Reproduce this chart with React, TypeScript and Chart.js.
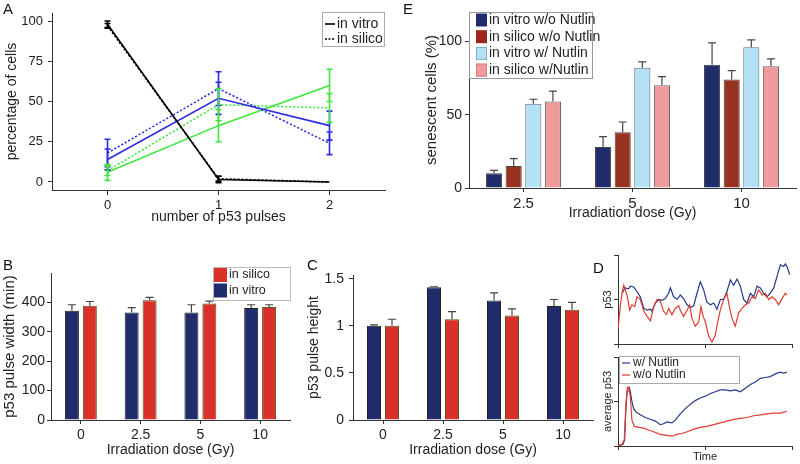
import React, { useEffect, useRef } from 'react';
import { Chart, registerables } from 'chart.js';

Chart.register(...registerables);

const FONT = "'Liberation Sans', Arial, Helvetica, sans-serif";
const TEXT = '#222';
const AXIS = '#333';

// ---------- Panel A ----------
const pulseNumbers = [0, 1, 2];
const ticksA = [0, 25, 50, 75, 100];
const vitroBlack = [98, 1.5, 0];
const vitroBlackErr = [2, 2, 0];
const silicoBlack = [97, 2, 0];
const silicoBlackErr = [1.5, 1.5, 0];
const vitroBlue = [14, 52, 35];
const vitroBlueErr = [6.5, 10, 9];
const silicoBlue = [18, 58, 24];
const silicoBlueErr = [8.5, 10.5, 7];
const vitroGreen = [6, 35, 60];
const vitroGreenErr = [5, 10, 10];
const silicoGreen = [7, 48, 46];
const silicoGreenErr = [3, 10, 9];
const legendA = ['in vitro', 'in silico'];

// ---------- Panel E ----------
const dosesE = ['2.5', '5', '10'];
const ticksE = [0, 50, 100];
const vitroNoNutlin = [10, 28, 84];
const vitroNoNutlinErr = [2, 7, 15];
const silicoNoNutlin = [15, 38, 74];
const silicoNoNutlinErr = [5, 7, 6];
const vitroNutlin = [57.5, 82, 96];
const vitroNutlinErr = [3, 4, 5];
const silicoNutlin = [59, 70, 83];
const silicoNutlinErr = [7, 6, 5];
const legendE = ['in vitro w/o Nutlin', 'in silico w/o Nutlin', 'in vitro w/ Nutlin', 'in silico w/Nutlin'];

// ---------- Panels B, C ----------
const dosesBC = ['0', '2.5', '5', '10'];
const ticksB = [0, 100, 200, 300, 400];
const widthVitro = [372, 366, 366, 381];
const widthVitroErr = [20, 16, 26, 11];
const widthSilico = [389, 407, 396, 384];
const widthSilicoErr = [14, 10, 8, 8];
const legendB = ['in silico', 'in vitro'];
const ticksC = [0, 0.5, 1, 1.5];
const heightVitro = [1.0, 1.41, 1.27, 1.21];
const heightVitroErr = [0.01, 0.005, 0.08, 0.07];
const heightSilico = [1.0, 1.07, 1.11, 1.17];
const heightSilicoErr = [0.07, 0.08, 0.07, 0.08];

// ---------- Panel D ----------
const ticksD = [0, 50, 100];
const dTopBlueT = [2.3, 4.2, 6.1, 7.1, 9.0, 10.9, 12.8, 14.8, 16.7, 18.6, 19.5, 21.5, 23.4, 25.3, 27.2, 29.1, 30.1, 32.0, 33.9, 35.8, 37.7, 39.7, 41.6, 43.5, 45.4, 47.3, 49.2, 51.1, 53.1, 55.0, 56.9, 58.8, 60.7, 62.6, 64.6, 66.5, 68.4, 70.3, 72.2, 74.1, 76.1, 78.0, 79.9, 81.8, 83.7, 85.6, 87.5, 89.5, 91.4, 93.3, 95.2, 96.2, 97.1, 98.7];
const dTopBlueV = [57, 63, 62, 65, 64, 59, 53, 40, 38, 39, 37, 46, 50, 49, 51, 57, 63, 53, 50, 55, 51, 44, 41, 43, 57, 70, 61, 47, 44, 46, 39, 50, 50, 59, 72, 66, 73, 65, 50, 46, 57, 53, 65, 63, 57, 53, 57, 63, 76, 89, 87, 90, 87, 78];
const dTopRedT = [0, 1.3, 2.3, 3.3, 5.2, 6.7, 8.0, 9.6, 10.9, 12.8, 14.8, 16.7, 18.6, 20.5, 22.4, 24.3, 26.2, 27.8, 29.1, 31.0, 32.9, 34.9, 35.8, 37.7, 39.7, 41.2, 42.5, 44.4, 46.4, 47.7, 48.9, 50.2, 52.1, 54.0, 55.9, 57.3, 58.8, 60.7, 62.6, 64.2, 65.5, 67.4, 69.3, 71.3, 73.2, 75.1, 77.0, 78.9, 80.8, 82.8, 84.7, 86.6, 88.5, 90.4, 92.3, 94.3, 96.2, 97.1];
const dTopRedV = [16, 42, 57, 66, 55, 38, 44, 42, 53, 50, 37, 31, 26, 42, 50, 48, 37, 33, 40, 33, 40, 43, 38, 31, 38, 44, 29, 20, 25, 42, 31, 25, 9, 2, 10, 25, 38, 50, 57, 40, 29, 20, 35, 40, 44, 46, 53, 51, 61, 55, 57, 50, 53, 50, 44, 51, 57, 55];
const dAvgBlueT = [0, 1.3, 2.9, 3.8, 4.6, 5.2, 5.7, 6.5, 7.1, 8.0, 9.0, 10.5, 12.8, 15.7, 18.6, 21.5, 24.3, 26.2, 28.2, 31.0, 32.9, 35.8, 38.7, 41.6, 44.4, 47.3, 50.2, 53.1, 55.9, 58.8, 61.7, 64.6, 67.4, 70.3, 73.2, 76.1, 78.9, 81.8, 84.7, 87.5, 90.4, 93.3, 95.2, 97.1];
const dAvgBlueV = [0, 1, 2, 7, 44, 61, 66, 66, 61, 50, 42, 38, 35, 32, 30, 28, 24, 25, 27, 26, 29, 36, 42, 47, 51, 54, 56, 59, 61, 63, 63, 62, 63, 61, 65, 69, 72, 76, 77, 78, 81, 83, 82, 83];
const dAvgRedT = [0, 2.3, 3.6, 4.6, 5.4, 6.3, 7.1, 8.0, 9.4, 11.9, 14.8, 17.6, 20.5, 24.3, 28.2, 31.0, 33.9, 36.8, 39.7, 43.5, 47.3, 51.1, 55.0, 58.8, 62.6, 66.5, 70.3, 74.1, 78.0, 81.8, 85.6, 89.5, 93.3, 97.1];
const dAvgRedV = [0, 1.5, 7, 48, 65, 66, 55, 29, 22, 21, 20, 18, 16, 13, 12, 11, 13, 14, 16, 19, 21, 22, 24, 26, 28, 30, 31, 32, 34, 35, 36, 37, 37, 39];
const legendD = ['w/ Nutlin', 'w/o Nutlin'];

// ---------- colours ----------
const NAVY = '#202c6c';
const RED = '#d9302a';
const BROWN = '#9a3220';
const LIGHTBLUE = '#b3e1f5';
const PINK = '#f19c9c';
const BLUE_A = '#2b2be0';
const GREEN_A = '#3ee63e';
const D_BLUE = '#263a8a';
const D_RED = '#e23b30';

const errorBarPlugin = {
  id: 'errbars',
  afterDatasetsDraw(chart: any) {
    const ctx = chart.ctx;
    chart.data.datasets.forEach((ds: any, di: number) => {
      const errs = ds.errs;
      if (!errs) return;
      const meta = chart.getDatasetMeta(di);
      const ys = chart.scales[meta.yAxisID];
      ctx.save();
      ctx.strokeStyle = ds.errColor || ds.borderColor;
      ctx.lineWidth = ds.errWidth || 1;
      ctx.setLineDash([]);
      const cap = ds.capWidth || 8;
      meta.data.forEach((el: any, i: number) => {
        const e = errs[i];
        if (!e) return;
        const raw = ds.data[i];
        const v = typeof raw === 'number' ? raw : raw.y;
        const x = el.x;
        const yTop = ys.getPixelForValue(v + e);
        const yBot = ds.errBoth ? ys.getPixelForValue(v - e) : el.y;
        ctx.beginPath();
        ctx.moveTo(x, yTop);
        ctx.lineTo(x, yBot);
        ctx.moveTo(x - cap / 2, yTop);
        ctx.lineTo(x + cap / 2, yTop);
        if (ds.errBoth) {
          ctx.moveTo(x - cap / 2, yBot);
          ctx.lineTo(x + cap / 2, yBot);
        }
        ctx.stroke();
      });
      ctx.restore();
    });
  },
};

const boxLegendPlugin = {
  id: 'boxLegend',
  afterDraw(chart: any, _args: any, o: any) {
    if (!o || !o.items) return;
    const ctx = chart.ctx;
    ctx.save();
    ctx.fillStyle = '#fff';
    ctx.fillRect(o.x, o.y, o.w, o.h);
    ctx.strokeStyle = o.border;
    ctx.lineWidth = 1;
    ctx.strokeRect(o.x + 0.5, o.y + 0.5, o.w, o.h);
    ctx.font = `${o.size}px ${FONT}`;
    ctx.textBaseline = 'middle';
    ctx.textAlign = 'left';
    o.items.forEach((it: any, i: number) => {
      const cy = o.y + o.rowTop + i * o.rowH;
      if (it.kind === 'box') {
        ctx.fillStyle = it.color;
        ctx.fillRect(o.x + o.symX, cy - o.symH / 2, o.symW, o.symH);
        if (it.stroke) {
          ctx.strokeStyle = it.stroke;
          ctx.lineWidth = 1;
          ctx.strokeRect(o.x + o.symX + 0.5, cy - o.symH / 2 + 0.5, o.symW - 1, o.symH - 1);
        }
      } else {
        ctx.strokeStyle = it.color;
        ctx.lineWidth = it.width;
        ctx.setLineDash(it.dash ? [...it.dash] : []);
        ctx.beginPath();
        ctx.moveTo(o.x + o.symX, cy);
        ctx.lineTo(o.x + o.symX + o.symW, cy);
        ctx.stroke();
        ctx.setLineDash([]);
      }
      ctx.fillStyle = TEXT;
      ctx.fillText(it.label, o.x + o.textX, cy);
    });
    ctx.restore();
  },
};

function titleCfg(text: string | null, size: number, pad: any) {
  if (!text) return { display: false };
  return { display: true, text, color: TEXT, font: { family: FONT, size }, padding: pad };
}

function linY(p: any) {
  return {
    type: 'linear',
    position: 'left',
    min: p.min,
    max: p.max,
    afterBuildTicks: (s: any) => {
      s.ticks = p.ticks.map((v: number) => ({ value: v }));
    },
    afterFit: (s: any) => {
      s.width = p.width;
    },
    border: { display: true, color: AXIS, width: 1 },
    grid: { display: true, drawOnChartArea: false, drawTicks: true, tickLength: p.tickLen ?? 4, color: AXIS, lineWidth: 1 },
    ticks: {
      display: p.showLabels !== false,
      padding: p.tickPad ?? 3,
      color: TEXT,
      font: { family: FONT, size: p.size || 13 },
      callback: (v: any) => String(v),
    },
    title: titleCfg(p.title, p.titleSize || 14, { top: p.titlePad ?? 4, bottom: 0 }),
  };
}

function linX(p: any) {
  return {
    type: 'linear',
    position: 'bottom',
    min: p.min,
    max: p.max,
    afterBuildTicks: (s: any) => {
      s.ticks = p.ticks.map((v: number) => ({ value: v }));
    },
    afterFit: (s: any) => {
      s.height = p.height;
    },
    border: { display: true, color: AXIS, width: 1 },
    grid: { display: true, drawOnChartArea: false, drawTicks: true, tickLength: p.tickLen ?? 4, color: AXIS, lineWidth: 1 },
    ticks: {
      display: p.showLabels !== false,
      padding: p.tickPad ?? 3,
      color: TEXT,
      maxRotation: 0,
      font: { family: FONT, size: p.size || 13 },
      callback: (v: any) => String(v),
    },
    title: titleCfg(p.title, p.titleSize || 14, { top: 0, bottom: p.titlePad ?? 4 }),
  };
}

function catX(p: any) {
  return {
    type: 'category',
    position: 'bottom',
    offset: true,
    afterFit: (s: any) => {
      s.height = p.height;
    },
    border: { display: true, color: AXIS, width: 1 },
    grid: { display: true, offset: false, drawOnChartArea: false, drawTicks: true, tickLength: p.tickLen ?? 4, color: AXIS, lineWidth: 1 },
    ticks: { padding: p.tickPad ?? 3, color: TEXT, maxRotation: 0, autoSkip: false, font: { family: FONT, size: p.size || 14 } },
    title: titleCfg(p.title, p.titleSize || 14, { top: 0, bottom: p.titlePad ?? 4 }),
  };
}

function baseOptions(padding: any, scales: any, legend: any) {
  return {
    responsive: false,
    maintainAspectRatio: false,
    animation: false,
    devicePixelRatio: 1,
    layout: { padding },
    plugins: {
      legend: { display: false },
      tooltip: { enabled: false },
      boxLegend: legend || {},
    },
    scales,
  };
}

function pts(xs: number[], ys: number[]) {
  return xs.map((x, i) => ({ x, y: ys[i] }));
}

function lineA(data: number[], errs: number[], color: string, dashed: boolean) {
  return {
    data: pts(pulseNumbers, data),
    borderColor: color,
    backgroundColor: color,
    borderWidth: 1.6,
    borderDash: dashed ? [2, 2] : [],
    pointRadius: 0,
    tension: 0,
    errs,
    errBoth: true,
    errWidth: 1.6,
    capWidth: 6,
  };
}

function configA() {
  return {
    type: 'line',
    data: {
      datasets: [
        lineA(vitroBlack, vitroBlackErr, '#000', false),
        lineA(silicoBlack, silicoBlackErr, '#000', true),
        lineA(vitroBlue, vitroBlueErr, BLUE_A, false),
        lineA(silicoBlue, silicoBlueErr, BLUE_A, true),
        lineA(vitroGreen, vitroGreenErr, GREEN_A, false),
        lineA(silicoGreen, silicoGreenErr, GREEN_A, true),
      ],
    },
    options: baseOptions(
      { top: 13, right: 15, left: 0, bottom: 0 },
      {
        x: linX({ min: -0.5, max: 2.5, ticks: pulseNumbers, height: 42, size: 13, title: 'number of p53 pulses', titleSize: 14, titlePad: 6, tickLen: 5 }),
        y: linY({ min: -5, max: 105, ticks: ticksA, width: 52, size: 13, title: 'percentage of cells', titleSize: 14, titlePad: 4, tickLen: 4, tickPad: 5 }),
      },
      {
        x: 322, y: 12, w: 62, h: 34, size: 14, rowTop: 12, rowH: 15, symX: 3, symW: 10, symH: 0, textX: 15, border: '#aaa',
        items: [
          { kind: 'line', color: '#000', width: 1.6, label: legendA[0] },
          { kind: 'line', color: '#000', width: 1.6, dash: [2, 1.5], label: legendA[1] },
        ],
      }
    ),
    plugins: [errorBarPlugin, boxLegendPlugin],
  };
}

function barDs(data: number[], errs: number[], color: string, border: string, catPct: number, barPct: number) {
  return {
    data,
    backgroundColor: color,
    borderColor: border,
    borderWidth: 1,
    categoryPercentage: catPct,
    barPercentage: barPct,
    errs,
    errColor: '#444',
    errWidth: 1.2,
    capWidth: 8,
  };
}

function configE() {
  const c = 0.72;
  const b = 0.82;
  return {
    type: 'bar',
    data: {
      labels: dosesE,
      datasets: [
        barDs(vitroNoNutlin, vitroNoNutlinErr, NAVY, '#444', c, b),
        barDs(silicoNoNutlin, silicoNoNutlinErr, BROWN, '#444', c, b),
        barDs(vitroNutlin, vitroNutlinErr, LIGHTBLUE, '#667', c, b),
        barDs(silicoNutlin, silicoNutlinErr, PINK, '#666', c, b),
      ],
    },
    options: baseOptions(
      { top: 12, right: 4, left: 0, bottom: 0 },
      {
        x: catX({ height: 44, size: 15, title: 'Irradiation dose (Gy)', titleSize: 14, titlePad: 10, tickLen: 4 }),
        y: linY({ min: 0, max: 120, ticks: ticksE, width: 69, size: 14, title: 'senescent cells (%)', titleSize: 15, titlePad: 23, tickLen: 4, tickPad: 3 }),
      },
      {
        x: 69, y: 12, w: 123, h: 66, size: 14, rowTop: 8, rowH: 16.7, symX: 7, symW: 11, symH: 13, textX: 20, border: '#999',
        items: [
          { kind: 'box', color: NAVY, label: legendE[0] },
          { kind: 'box', color: '#a0261c', label: legendE[1] },
          { kind: 'box', color: LIGHTBLUE, stroke: '#7fb0cc', label: legendE[2] },
          { kind: 'box', color: PINK, stroke: '#d08080', label: legendE[3] },
        ],
      }
    ),
    plugins: [errorBarPlugin, boxLegendPlugin],
  };
}

function configB() {
  const c = 0.6;
  const b = 0.78;
  return {
    type: 'bar',
    data: {
      labels: dosesBC,
      datasets: [
        barDs(widthVitro, widthVitroErr, NAVY, '#222', c, b),
        barDs(widthSilico, widthSilicoErr, RED, '#552', c, b),
      ],
    },
    options: baseOptions(
      { top: 33, right: 10, left: 0, bottom: 0 },
      {
        x: catX({ height: 44, size: 14, title: 'Irradiation dose (Gy)', titleSize: 14, titlePad: 5, tickLen: 4 }),
        y: linY({ min: 0, max: 500, ticks: ticksB, width: 51, size: 14, title: 'p53 pulse width (min)', titleSize: 15, titlePad: 1, tickLen: 4, tickPad: 2 }),
      },
      {
        x: 213, y: 27, w: 77, h: 33, size: 12.5, rowTop: 8, rowH: 15.5, symX: 1, symW: 13, symH: 14, textX: 16, border: '#bbb',
        items: [
          { kind: 'box', color: RED, label: legendB[0] },
          { kind: 'box', color: NAVY, label: legendB[1] },
        ],
      }
    ),
    plugins: [errorBarPlugin, boxLegendPlugin],
  };
}

function configC() {
  const c = 0.6;
  const b = 0.78;
  return {
    type: 'bar',
    data: {
      labels: dosesBC,
      datasets: [
        barDs(heightVitro, heightVitroErr, NAVY, '#222', c, b),
        barDs(heightSilico, heightSilicoErr, RED, '#552', c, b),
      ],
    },
    options: baseOptions(
      { top: 35, right: 7, left: 0, bottom: 0 },
      {
        x: catX({ height: 44, size: 14, title: 'Irradiation dose (Gy)', titleSize: 14, titlePad: 5, tickLen: 4 }),
        y: linY({ min: 0, max: 1.54, ticks: ticksC, width: 73, size: 14, title: 'p53 pulse height', titleSize: 14, titlePad: 26, tickLen: 4, tickPad: 5 }),
      },
      null
    ),
    plugins: [errorBarPlugin],
  };
}

function lineD(xs: number[], ys: number[], color: string) {
  return {
    data: pts(xs, ys),
    borderColor: color,
    backgroundColor: color,
    borderWidth: 1.2,
    pointRadius: 0,
    tension: 0,
  };
}

function configDTop() {
  return {
    type: 'line',
    data: {
      datasets: [lineD(dTopRedT, dTopRedV, D_RED), lineD(dTopBlueT, dTopBlueV, D_BLUE)],
    },
    options: baseOptions(
      { top: 10, right: 8, left: 0, bottom: 0 },
      {
        x: linX({ min: 0, max: 100, ticks: ticksD, height: 6, showLabels: false, title: null, tickLen: 4 }),
        y: linY({ min: 0, max: 100, ticks: ticksD, width: 38, showLabels: false, title: 'p53', titleSize: 11, titlePad: 21, tickLen: 4 }),
      },
      null
    ),
    plugins: [],
  };
}

function configDBottom() {
  return {
    type: 'line',
    data: {
      datasets: [lineD(dAvgRedT, dAvgRedV, D_RED), lineD(dAvgBlueT, dAvgBlueV, D_BLUE)],
    },
    options: baseOptions(
      { top: 7, right: 8, left: 0, bottom: 0 },
      {
        x: linX({ min: 0, max: 100, ticks: ticksD, height: 18, showLabels: false, title: 'Time', titleSize: 11, titlePad: 0, tickLen: 4 }),
        y: linY({ min: 0, max: 100, ticks: ticksD, width: 38, showLabels: false, title: 'average p53', titleSize: 11, titlePad: 21, tickLen: 4 }),
      },
      {
        x: 39, y: 6, w: 120, h: 27, size: 12, rowTop: 7, rowH: 12, symX: 3, symW: 8, symH: 0, textX: 14, border: '#aaa',
        items: [
          { kind: 'line', color: D_BLUE, width: 1.2, label: legendD[0] },
          { kind: 'line', color: D_RED, width: 1.2, label: legendD[1] },
        ],
      }
    ),
    plugins: [boxLegendPlugin],
  };
}

function ChartCanvas(props: { left: number; top: number; width: number; height: number; config: () => any }) {
  const ref = useRef<HTMLCanvasElement>(null);
  useEffect(() => {
    const chart = new Chart(ref.current as HTMLCanvasElement, props.config());
    return () => chart.destroy();
  }, []);
  return (
    <canvas
      ref={ref}
      width={props.width}
      height={props.height}
      style={{ position: 'absolute', left: props.left, top: props.top, width: props.width, height: props.height }}
    />
  );
}

function Letter(props: { x: number; y: number; t: string }) {
  return (
    <div
      style={{
        position: 'absolute',
        left: props.x,
        top: props.y,
        font: `15px ${FONT}`,
        lineHeight: '15px',
        color: '#111',
      }}
    >
      {props.t}
    </div>
  );
}

export default function App() {
  return (
    <div style={{ position: 'absolute', left: 0, top: 0, width: 800, height: 464, background: '#fff', overflow: 'hidden' }}>
      <ChartCanvas left={0} top={0} width={400} height={232} config={configA} />
      <ChartCanvas left={400} top={0} width={400} height={232} config={configE} />
      <ChartCanvas left={0} top={240} width={300} height={224} config={configB} />
      <ChartCanvas left={280} top={240} width={320} height={224} config={configC} />
      <ChartCanvas left={580} top={245} width={220} height={105} config={configDTop} />
      <ChartCanvas left={580} top={350} width={220} height={114} config={configDBottom} />
      <Letter x={3} y={1} t="A" />
      <Letter x={403} y={1} t="E" />
      <Letter x={3} y={257} t="B" />
      <Letter x={307} y={257} t="C" />
      <Letter x={593} y={260} t="D" />
    </div>
  );
}
